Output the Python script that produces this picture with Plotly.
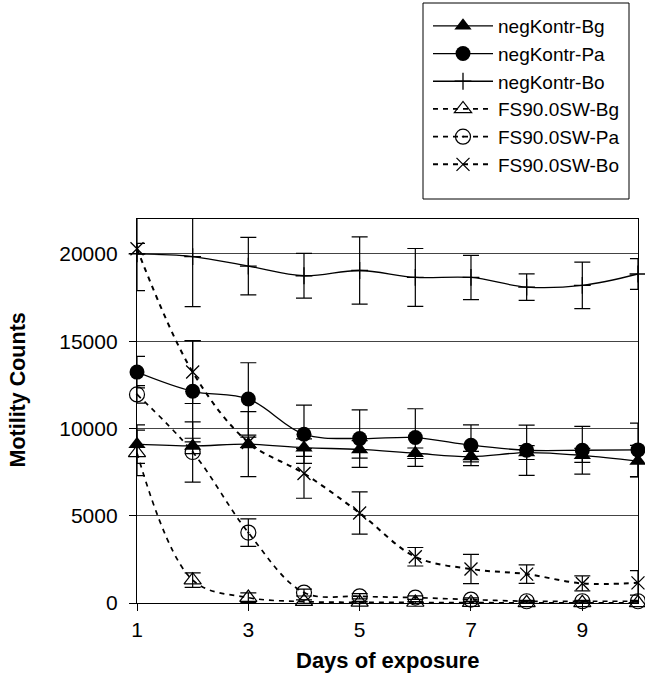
import plotly.graph_objects as go

days = [1, 2, 3, 4, 5, 6, 7, 8, 9, 10]

neg_bg = [9100, 9000, 9100, 8900, 8800, 8580, 8390, 8620, 8460, 8130]
neg_bg_err = [1100, 440, 1860, 500, 500, 300, 300, 400, 400, 900]

neg_pa = [13230, 12130, 11690, 9670, 9420, 9480, 9040, 8750, 8750, 8770]
neg_pa_err = [900, 2900, 2075, 1670, 1650, 1650, 1165, 1440, 1365, 1530]

neg_bo = [20000, 19850, 19300, 18750, 19050, 18650, 18650, 18100, 18200, 18850]
neg_bo_err = [2100, 2870, 1650, 1280, 1930, 1660, 1270, 760, 1330, 880]

fs_bg = [8600, 1310, 310, 80, 40, 30, 20, 10, 10, 10]
fs_bg_err = [1300, 420, 270, 100, 50, 50, 50, 50, 50, 50]

fs_pa = [11950, 8650, 4035, 600, 385, 310, 195, 100, 100, 100]
fs_pa_err = [500, 1730, 790, 200, 150, 100, 100, 50, 50, 50]

fs_bo = [20300, 13230, 9200, 7420, 5155, 2650, 1945, 1655, 1120, 1155]
fs_bo_err = [300, 1800, 300, 1420, 1210, 530, 840, 530, 430, 700]

names = ["negKontr-Bg", "negKontr-Pa", "negKontr-Bo", "FS90.0SW-Bg", "FS90.0SW-Pa", "FS90.0SW-Bo"]
x_ticks = [1, 3, 5, 7, 9]
y_ticks = [0, 5000, 10000, 15000, 20000]

FONT = "Arial, Liberation Sans, sans-serif"

L, R, T, B = 137, 7, 219, 76
W, H = 645, 679
PW, PH = W - L - R, H - T - B


def px_x(p):
    return (p - L) / PW


def px_y(p):
    return ((H - B) - p) / PH


series = [
    (names[0], neg_bg, neg_bg_err, dict(symbol="triangle-up", size=15, color="black"), dict(color="black", width=1.3, shape="spline", smoothing=1)),
    (names[1], neg_pa, neg_pa_err, dict(symbol="circle", size=15, color="black"), dict(color="black", width=1.3, shape="spline", smoothing=1)),
    (names[2], neg_bo, neg_bo_err, dict(symbol="cross-thin", size=12, color="black", line=dict(color="black", width=1.3)), dict(color="black", width=1.3, shape="spline", smoothing=1)),
    (names[3], fs_bg, fs_bg_err, dict(symbol="triangle-up-open", size=15, color="black", line=dict(color="black", width=1.2)), dict(color="black", width=1.7, dash="5px,5px", shape="spline", smoothing=1)),
    (names[4], fs_pa, fs_pa_err, dict(symbol="circle-open-dot", size=15, color="black", line=dict(color="black", width=1.2)), dict(color="black", width=1.7, dash="5px,5px", shape="spline", smoothing=1)),
    (names[5], fs_bo, fs_bo_err, dict(symbol="x-thin", size=13, color="black", line=dict(color="black", width=1.3)), dict(color="black", width=2, dash="5px,5px", shape="spline", smoothing=1)),
]

fig = go.Figure()
for name, vals, errs, marker, line in series:
    fig.add_trace(go.Scatter(
        x=days, y=vals, name=name, mode="lines+markers",
        marker=marker, line=line,
        error_y=dict(type="data", array=errs, visible=True, color="black", thickness=1.2, width=8),
        cliponaxis=False,
    ))

fig.update_layout(
    width=W, height=H,
    margin=dict(l=L, r=R, t=T, b=B, pad=0, autoexpand=False),
    paper_bgcolor="white", plot_bgcolor="white",
    font=dict(family=FONT, color="black", size=21),
    showlegend=True,
    legend=dict(
        x=px_x(428), xanchor="left",
        y=px_y(7), yanchor="top",
        bgcolor="rgba(0,0,0,0)", borderwidth=0,
        font=dict(family=FONT, size=19, color="black"),
        itemwidth=60, tracegroupgap=0,
    ),
    shapes=[
        dict(type="rect", xref="paper", yref="paper",
             x0=px_x(423), x1=px_x(629), y0=px_y(199), y1=px_y(3),
             line=dict(color="black", width=1), fillcolor="white", layer="above"),
    ],
    xaxis=dict(
        range=[1, 10.0005], tickvals=x_ticks, ticktext=[str(v) for v in x_ticks],
        showgrid=False, zeroline=False, showline=True, linecolor="black", linewidth=1.3,
        mirror=True, ticks="outside", ticklen=7, tickcolor="black",
        tickfont=dict(family=FONT, size=21), ticklabelstandoff=1,
    ),
    yaxis=dict(
        range=[0, 22000], tickvals=y_ticks, ticktext=[str(v) for v in y_ticks],
        showgrid=True, gridcolor="#444444", gridwidth=1,
        zeroline=False, showline=True, linecolor="black", linewidth=1.3,
        mirror=True, ticks="outside", ticklen=7, tickcolor="black",
        tickfont=dict(family=FONT, size=21), ticklabelstandoff=7,
    ),
    annotations=[
        dict(text="<b>Days of exposure</b>", xref="paper", yref="paper",
             x=0.5, y=px_y(660), xanchor="center", yanchor="middle",
             showarrow=False, font=dict(family=FONT, size=22, color="black")),
        dict(text="<b>Motility Counts</b>", xref="paper", yref="paper",
             x=px_x(17), y=px_y(390.5), xanchor="center", yanchor="middle",
             textangle=-90, showarrow=False, font=dict(family=FONT, size=21.5, color="black")),
    ],
)

fig.write_html("out.html", config={"displayModeBar": False},
               post_script="document.body.style.margin='0';document.body.style.padding='0';")
